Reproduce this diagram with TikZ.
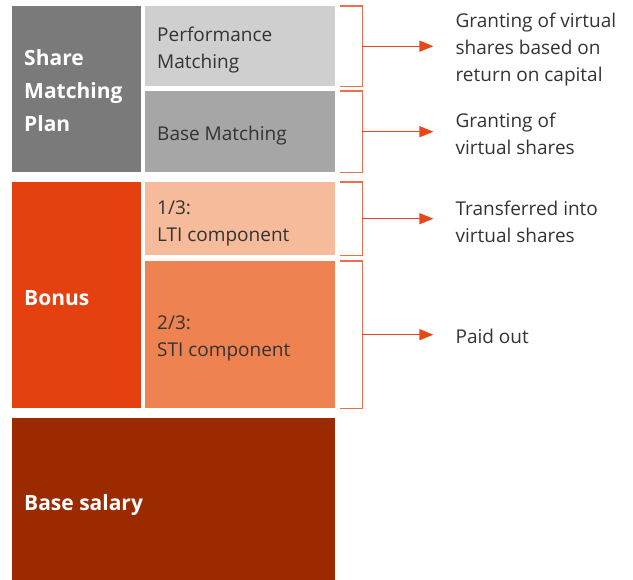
\documentclass[tikz,border=0pt]{standalone}
\usepackage{fontspec}
\setmainfont{Open Sans}
\usetikzlibrary{arrows.meta,positioning}
\definecolor{smpgray}{HTML}{7A7A7A}
\definecolor{perfgray}{HTML}{CFCFCF}
\definecolor{basegray}{HTML}{A6A6A6}
\definecolor{bonusred}{HTML}{E5400F}
\definecolor{ltipeach}{HTML}{F6BB9A}
\definecolor{stiorange}{HTML}{EF8251}
\definecolor{salarybrown}{HTML}{9C2A00}
\definecolor{textdark}{HTML}{333333}
\definecolor{bracecol}{HTML}{EE6F50}
\definecolor{arrowcol}{HTML}{E8471A}

\begin{document}
\begin{tikzpicture}[x=1pt, y=-1pt,
    box/.style={anchor=north west, inner sep=0pt, minimum width=#1},
    boxtext/.style={anchor=west, inner sep=0pt, align=left, text=textdark,
      font=\fontsize{19}{27}\selectfont},
    headtext/.style={boxtext, text=white, font=\bfseries\fontsize{21}{33}\selectfont},
    brace/.style={draw=bracecol, line width=1.3pt},
    outarrow/.style={draw=arrowcol, line width=1.3pt, shorten >=22pt,
      -{Triangle[length=14pt, width=11pt]}},
    result/.style={boxtext, anchor=west}]
  \useasboundingbox (0,0) rectangle (633,580);
  % left column
  \node[box=129pt, fill=smpgray, minimum height=166pt] (smp) at (12,6) {};
  \node[box=129pt, fill=bonusred, minimum height=226pt] (bonus) at (12,182) {};
  \node[box=323pt, fill=salarybrown, minimum height=162pt] (salary) at (12,418) {};
  % right column
  \node[box=190pt, fill=perfgray, minimum height=80pt] (perf) at (145,6) {};
  \node[box=190pt, fill=basegray, minimum height=81pt] (base) at (145,91) {};
  \node[box=190pt, fill=ltipeach, minimum height=73pt] (lti) at (145,182) {};
  \node[box=190pt, fill=stiorange, minimum height=147pt] (sti) at (145,261) {};
  % texts in the boxes
  \node[headtext] (tsmp) at ([xshift=12pt, yshift=-1pt]smp.west) {Share\\Matching\\Plan};
  \node[headtext] (tbonus) at ([xshift=12pt, yshift=-3pt]bonus.west) {Bonus};
  \node[headtext] (tsalary) at ([xshift=12pt, yshift=-6pt]salary.west) {Base salary};
  \node[boxtext] (tperf) at ([xshift=12pt, yshift=-4pt]perf.west) {Performance\\Matching};
  \node[boxtext] (tbase) at ([xshift=12pt, yshift=-4pt]base.west) {Base Matching};
  \node[boxtext] (tlti) at ([xshift=12pt, yshift=-5pt]lti.west) {1/3:\\LTI component};
  \node[boxtext] (tsti) at ([xshift=12pt, yshift=-4pt]sti.west) {2/3:\\STI component};
  % brackets, arrows and results
  \foreach \b/\dy/\t in {perf/3/{Granting of virtual\\shares based on\\return on capital},
                         base/2/{Granting of\\virtual shares},
                         lti/3/{Transferred into\\virtual shares},
                         sti/2/{Paid out}} {
    \draw[brace] ([xshift=5pt]\b.north east) -| ([xshift=27pt]\b.east) |- ([xshift=5pt]\b.south east);
    \coordinate (m\b) at ([xshift=27pt]\b.east);
    \node[result] (r\b) at ([xshift=120pt, yshift=-\dy pt]\b.east) {\t};
    \draw[outarrow] (m\b) -- (m\b -| r\b.west);
  }
\end{tikzpicture}
\end{document}
